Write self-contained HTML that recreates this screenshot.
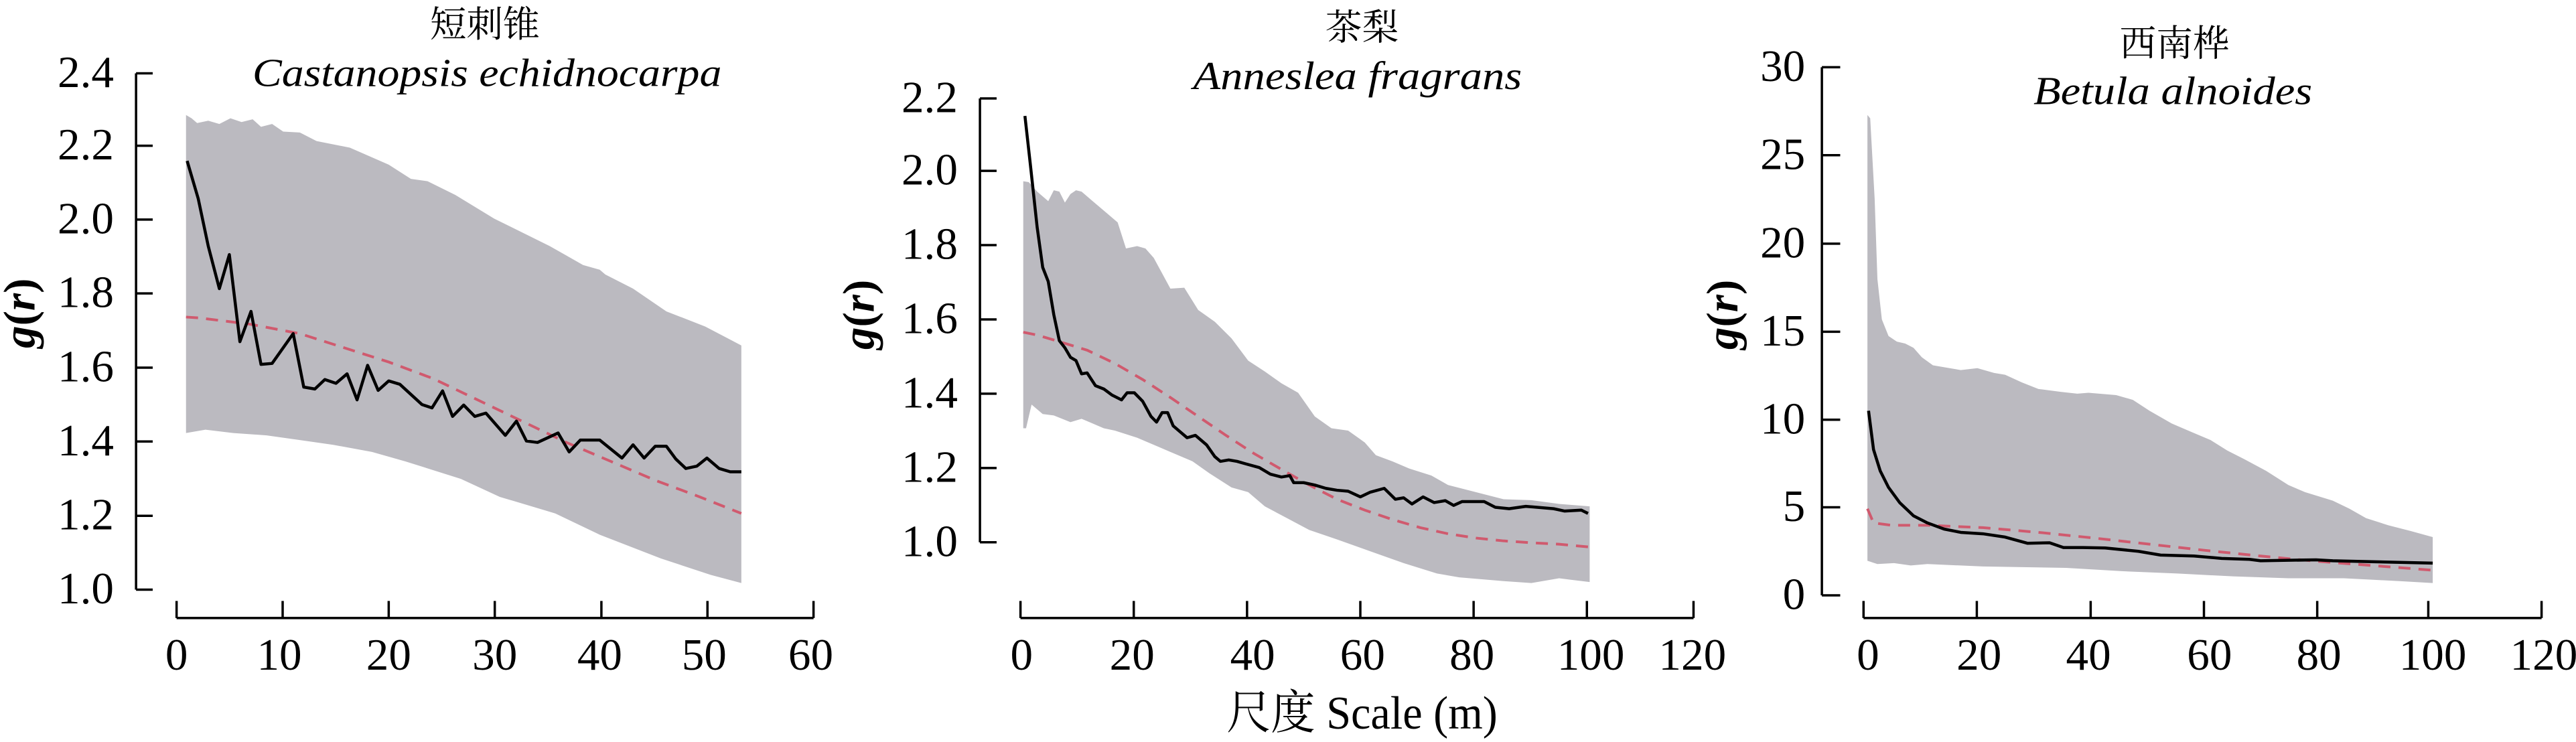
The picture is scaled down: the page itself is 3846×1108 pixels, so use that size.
<!DOCTYPE html>
<html><head><meta charset="utf-8"><style>
html,body{margin:0;padding:0;background:#fff;}
svg{display:block;}
text{font-family:"Liberation Serif","Times New Roman","DejaVu Serif","Noto Serif CJK SC",serif;fill:#000;}
.t{font-size:81px;}
.cj{font-size:66px;font-family:"Noto Serif CJK SC","Noto Sans CJK SC",serif;}
.sp{font-size:72px;font-style:italic;}
.ln{vector-effect:non-scaling-stroke;}
</style></head><body>
<svg width="3846" height="1108" viewBox="0 0 3846 1108" xmlns="http://www.w3.org/2000/svg">
<!-- Panel 1 -->
<g transform="translate(0,0) scale(0.82908,0.70663)">
<polygon fill="#bbbac0" points="335,243 345,250 355,260 375,255 395,262 415,250 435,258 455,252 470,268 490,262 510,278 540,280 570,298 630,312 700,348 740,378 770,383 820,412 890,462 990,520 1050,560 1080,570 1090,580 1140,610 1200,658 1270,690 1335,730 1335,1232 1280,1215 1190,1180 1080,1130 1000,1085 900,1050 830,1012 730,975 670,955 600,940 540,930 480,920 420,915 370,908 335,915"/>
<polyline class="ln" fill="none" stroke="#d05a6e" stroke-width="4" stroke-dasharray="18 12" points="335,670 360,672 450,685 540,705 620,735 700,765 780,800 860,845 940,890 1020,935 1100,975 1180,1015 1260,1050 1335,1085"/>
<polyline class="ln" fill="none" stroke="#000" stroke-width="4.5" stroke-linejoin="round" points="337,340 357,420 375,520 395,610 413,538 432,722 452,658 470,770 490,768 528,705 547,818 567,822 585,802 605,810 625,790 643,845 662,772 681,825 700,805 720,812 760,855 778,862 797,826 815,880 835,856 855,880 875,873 910,920 930,890 948,932 968,935 1005,915 1025,955 1045,930 1080,930 1120,968 1140,940 1160,968 1180,943 1200,943 1217,970 1235,990 1255,985 1273,968 1295,990 1315,997 1335,997"/>
<g class="ln" stroke="#000" stroke-width="3.5" fill="none">
<path class="ln" d="M245,155V1246 M245,155H275 M245,308H275 M245,464H275 M245,620H275 M245,777H275 M245,933H275 M245,1090H275 M245,1246H275"/>
<path class="ln" d="M318,1306H1465 M318,1270V1306 M509,1270V1306 M700,1270V1306 M891,1270V1306 M1083,1270V1306 M1274,1270V1306 M1465,1270V1306"/>
</g>
<g class="t" text-anchor="end">
<text transform="translate(205,184) scale(1,1.1733)">2.4</text><text transform="translate(205,337) scale(1,1.1733)">2.2</text><text transform="translate(205,493) scale(1,1.1733)">2.0</text><text transform="translate(205,649) scale(1,1.1733)">1.8</text><text transform="translate(205,806) scale(1,1.1733)">1.6</text><text transform="translate(205,962) scale(1,1.1733)">1.4</text><text transform="translate(205,1119) scale(1,1.1733)">1.2</text><text transform="translate(205,1275) scale(1,1.1733)">1.0</text>
</g>
<g class="t" text-anchor="middle">
<text transform="translate(318,1415) scale(1,1.1733)">0</text><text transform="translate(503,1415) scale(1,1.1733)">10</text><text transform="translate(700,1415) scale(1,1.1733)">20</text><text transform="translate(891,1415) scale(1,1.1733)">30</text><text transform="translate(1080,1415) scale(1,1.1733)">40</text><text transform="translate(1268,1415) scale(1,1.1733)">50</text><text transform="translate(1460,1415) scale(1,1.1733)">60</text>
</g>
<text class="cj" text-anchor="middle" transform="translate(873,78) scale(1,1.1733)">短刺锥</text>
<text class="sp" text-anchor="middle" textLength="845" lengthAdjust="spacingAndGlyphs" transform="translate(877,182) scale(1,1.1733)">Castanopsis echidnocarpa</text>
<text class="t" font-weight="bold" text-anchor="middle" transform="translate(62,662) scale(1,1.1733) rotate(-90)"><tspan font-style="italic">g</tspan>(<tspan font-style="italic">r</tspan>)</text>
</g>
<!-- Panel 2 -->
<g transform="translate(1250,0) scale(0.82908,0.70663)">
<polygon fill="#bbbac0" points="335,383 345,385 360,405 380,425 390,402 400,405 410,428 420,410 430,402 440,405 460,425 490,455 505,470 520,525 540,520 555,525 570,545 600,610 625,608 650,655 680,680 710,715 740,762 770,785 800,810 830,830 860,880 890,905 920,910 950,935 970,962 1000,975 1030,990 1070,1005 1100,1025 1150,1040 1200,1055 1250,1057 1300,1065 1355,1070 1355,1230 1320,1225 1300,1222 1250,1232 1200,1228 1120,1220 1080,1212 1020,1190 960,1165 900,1140 850,1120 810,1095 770,1070 740,1040 710,1030 670,1000 640,975 600,955 580,945 540,925 500,910 480,905 460,895 440,885 420,892 390,878 370,875 350,855 340,905 335,905"/>
<polyline class="ln" fill="none" stroke="#d05a6e" stroke-width="4" stroke-dasharray="18 12" points="335,702 360,708 400,722 450,740 500,768 550,802 600,840 650,880 700,920 750,958 800,992 850,1025 900,1055 950,1078 1000,1098 1050,1115 1100,1128 1150,1137 1200,1143 1250,1147 1300,1150 1355,1156"/>
<polyline class="ln" fill="none" stroke="#000" stroke-width="4.5" stroke-linejoin="round" points="338,245 348,350 360,480 370,565 380,595 390,665 400,720 410,735 420,755 430,762 440,790 450,788 465,815 480,822 495,835 512,845 522,830 535,830 550,848 565,880 575,892 585,872 595,872 605,900 620,915 630,925 645,920 665,940 680,965 690,975 705,972 720,975 735,980 760,988 780,1002 800,1008 815,1005 822,1020 840,1020 860,1025 880,1032 900,1036 920,1038 942,1050 960,1040 985,1032 1005,1055 1020,1052 1035,1065 1055,1050 1075,1062 1095,1058 1110,1068 1125,1060 1165,1060 1185,1072 1210,1075 1240,1070 1290,1075 1310,1080 1340,1078 1352,1085"/>
<g stroke="#000" stroke-width="3.5" fill="none">
<path class="ln" d="M257,208V1146 M257,208H287 M257,361H287 M257,518H287 M257,675H287 M257,832H287 M257,989H287 M257,1146H287"/>
<path class="ln" d="M330,1306H1542 M330,1270V1306 M534,1270V1306 M738,1270V1306 M942,1270V1306 M1146,1270V1306 M1350,1270V1306 M1542,1270V1306"/>
</g>
<g class="t" text-anchor="end">
<text transform="translate(217,237) scale(1,1.1733)">2.2</text><text transform="translate(217,390) scale(1,1.1733)">2.0</text><text transform="translate(217,547) scale(1,1.1733)">1.8</text><text transform="translate(217,704) scale(1,1.1733)">1.6</text><text transform="translate(217,861) scale(1,1.1733)">1.4</text><text transform="translate(217,1018) scale(1,1.1733)">1.2</text><text transform="translate(217,1175) scale(1,1.1733)">1.0</text>
</g>
<g class="t" text-anchor="middle">
<text transform="translate(332,1415) scale(1,1.1733)">0</text><text transform="translate(531,1415) scale(1,1.1733)">20</text><text transform="translate(748,1415) scale(1,1.1733)">40</text><text transform="translate(946,1415) scale(1,1.1733)">60</text><text transform="translate(1143,1415) scale(1,1.1733)">80</text><text transform="translate(1357,1415) scale(1,1.1733)">100</text><text transform="translate(1540,1415) scale(1,1.1733)">120</text>
</g>
<text class="cj" text-anchor="middle" transform="translate(945,84) scale(1,1.1733)">茶梨</text>
<text class="sp" text-anchor="middle" textLength="592" lengthAdjust="spacingAndGlyphs" transform="translate(937,188) scale(1,1.1733)">Anneslea fragrans</text>
<text text-anchor="middle" font-size="84" textLength="488" lengthAdjust="spacingAndGlyphs" transform="translate(945,1540) scale(1,1.1733)">尺度 Scale (m)</text>
<text class="t" font-weight="bold" text-anchor="middle" transform="translate(66,665) scale(1,1.1733) rotate(-90)"><tspan font-style="italic">g</tspan>(<tspan font-style="italic">r</tspan>)</text>
</g>
<!-- Panel 3 -->
<g transform="translate(2546,0) scale(0.82908,0.70663)">
<polygon fill="#bbbac0" points="292,243 297,250 305,420 310,590 318,675 330,710 345,722 360,726 375,735 390,755 410,772 440,778 460,782 490,778 520,788 540,792 570,808 600,822 640,828 670,832 690,830 740,835 770,845 800,868 840,895 880,915 910,930 940,952 970,970 1010,995 1050,1025 1080,1040 1130,1058 1160,1075 1190,1095 1230,1110 1270,1122 1310,1135 1310,1232 1250,1228 1200,1225 1150,1222 1050,1222 950,1218 850,1212 750,1207 650,1200 500,1197 400,1192 370,1195 340,1190 310,1192 292,1185"/>
<polyline class="ln" fill="none" stroke="#d05a6e" stroke-width="4" stroke-dasharray="18 12" points="292,1075 303,1105 335,1110 400,1110 500,1115 600,1125 700,1137 800,1150 900,1163 1000,1175 1100,1186 1200,1195 1310,1205"/>
<polyline class="ln" fill="none" stroke="#000" stroke-width="4.5" stroke-linejoin="round" points="294,868 303,950 315,995 330,1030 350,1062 375,1090 400,1105 430,1118 460,1125 500,1128 540,1135 580,1148 620,1147 645,1157 680,1157 720,1158 780,1165 820,1173 880,1175 930,1180 980,1182 1000,1185 1100,1183 1130,1185 1200,1187 1310,1190"/>
<g stroke="#000" stroke-width="3.5" fill="none">
<path class="ln" d="M210,142V1258 M210,142H243 M210,328H243 M210,515H243 M210,701H243 M210,887H243 M210,1072H243 M210,1258H243"/>
<path class="ln" d="M285,1306H1506 M285,1270V1306 M489,1270V1306 M694,1270V1306 M898,1270V1306 M1102,1270V1306 M1302,1270V1306 M1506,1270V1306"/>
</g>
<g class="t" text-anchor="end">
<text transform="translate(180,171) scale(1,1.1733)">30</text><text transform="translate(180,357) scale(1,1.1733)">25</text><text transform="translate(180,544) scale(1,1.1733)">20</text><text transform="translate(180,730) scale(1,1.1733)">15</text><text transform="translate(180,916) scale(1,1.1733)">10</text><text transform="translate(180,1101) scale(1,1.1733)">5</text><text transform="translate(180,1287) scale(1,1.1733)">0</text>
</g>
<g class="t" text-anchor="middle">
<text transform="translate(293,1415) scale(1,1.1733)">0</text><text transform="translate(493,1415) scale(1,1.1733)">20</text><text transform="translate(690,1415) scale(1,1.1733)">40</text><text transform="translate(908,1415) scale(1,1.1733)">60</text><text transform="translate(1105,1415) scale(1,1.1733)">80</text><text transform="translate(1310,1415) scale(1,1.1733)">100</text><text transform="translate(1510,1415) scale(1,1.1733)">120</text>
</g>
<text class="cj" text-anchor="middle" transform="translate(845,118) scale(1,1.1733)">西南桦</text>
<text class="sp" text-anchor="middle" textLength="502" lengthAdjust="spacingAndGlyphs" transform="translate(842,220) scale(1,1.1733)">Betula alnoides</text>
<text class="t" font-weight="bold" text-anchor="middle" transform="translate(58,665) scale(1,1.1733) rotate(-90)"><tspan font-style="italic">g</tspan>(<tspan font-style="italic">r</tspan>)</text>
</g>
</svg>
</body></html>
